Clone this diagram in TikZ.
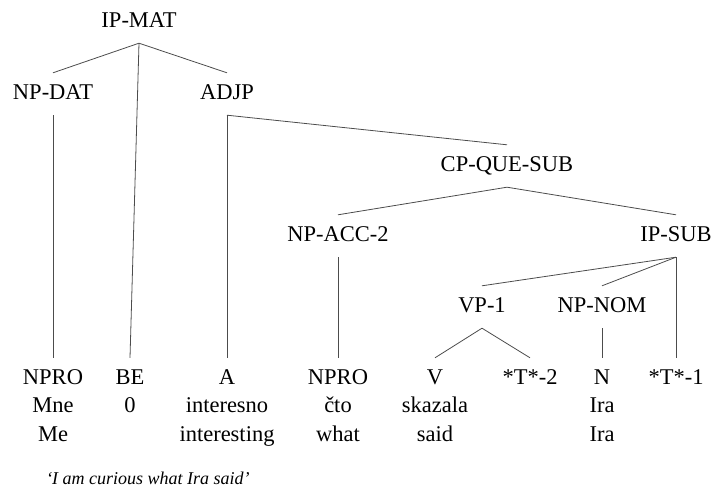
\documentclass[tikz,border=0pt]{standalone}
\usepackage{fontspec}
\setmainfont{Liberation Serif}
\begin{document}
\begin{tikzpicture}[x=1pt,y=-1pt,
  lbl/.style={anchor=base,font=\fontsize{22.5}{26}\selectfont,
    text height=14pt,text depth=2pt,inner xsep=0pt,inner ysep=13pt},
  edge/.style={draw=black!70,line width=0.8pt}]
\useasboundingbox (0,0) rectangle (713,494);

% phrase-level labels
\node[lbl] (ipmat) at (139,28) {IP-MAT};
\node[lbl] (npdat) at (53,100) {NP-DAT};
\node[lbl] (adjp) at (227,100) {ADJP};
\node[lbl] (cp) at (507,172) {CP-QUE-SUB};
\node[lbl] (npacc) at (338,242) {NP-ACC-2};
\node[lbl] (ipsub) at (676,242) {IP-SUB};
\node[lbl] (vp) at (482,313) {VP-1};
\node[lbl] (npnom) at (602,313) {NP-NOM};

% terminals: tag, word, gloss
\node[lbl] (t1) at (53,385) {NPRO};
\node[lbl] (w1) at (53,413) {Mne};
\node[lbl] (g1) at (53,442) {Me};
\node[lbl] (t2) at (130,385) {BE};
\node[lbl] (w2) at (130,413) {0};
\node[lbl] (t3) at (227,385) {A};
\node[lbl] (w3) at (227,413) {interesno};
\node[lbl] (g3) at (227,442) {interesting};
\node[lbl] (t4) at (338,385) {NPRO};
\node[lbl] (w4) at (338,413) {čto};
\node[lbl] (g4) at (338,442) {what};
\node[lbl] (t5) at (435,385) {V};
\node[lbl] (w5) at (435,413) {skazala};
\node[lbl] (g5) at (435,442) {said};
\node[lbl] (t6) at (530,385) {*T*-2};
\node[lbl] (t7) at (602,385) {N};
\node[lbl] (w7) at (602,413) {Ira};
\node[lbl] (g7) at (602,442) {Ira};
\node[lbl] (t8) at (676,385) {*T*-1};

% free translation
\node[lbl,font=\fontsize{18}{22}\selectfont\itshape] (trans) at (148,485) {‘I am curious what Ira said’};

% branches
\draw[edge] (ipmat.south) -- (npdat.north);
\draw[edge] (ipmat.south) -- (t2.north);
\draw[edge] (ipmat.south) -- (adjp.north);
\draw[edge] (npdat.south) -- (t1.north);
\draw[edge] (adjp.south) -- (t3.north);
\draw[edge] (adjp.south) -- (cp.north);
\draw[edge] (cp.south) -- (npacc.north);
\draw[edge] (cp.south) -- (ipsub.north);
\draw[edge] (npacc.south) -- (t4.north);
\draw[edge] (ipsub.south) -- (vp.north);
\draw[edge] (ipsub.south) -- (npnom.north);
\draw[edge] (ipsub.south) -- (t8.north);
\draw[edge] (vp.south) -- (t5.north);
\draw[edge] (vp.south) -- (t6.north);
\draw[edge] (npnom.south) -- (t7.north);
\end{tikzpicture}
\end{document}
